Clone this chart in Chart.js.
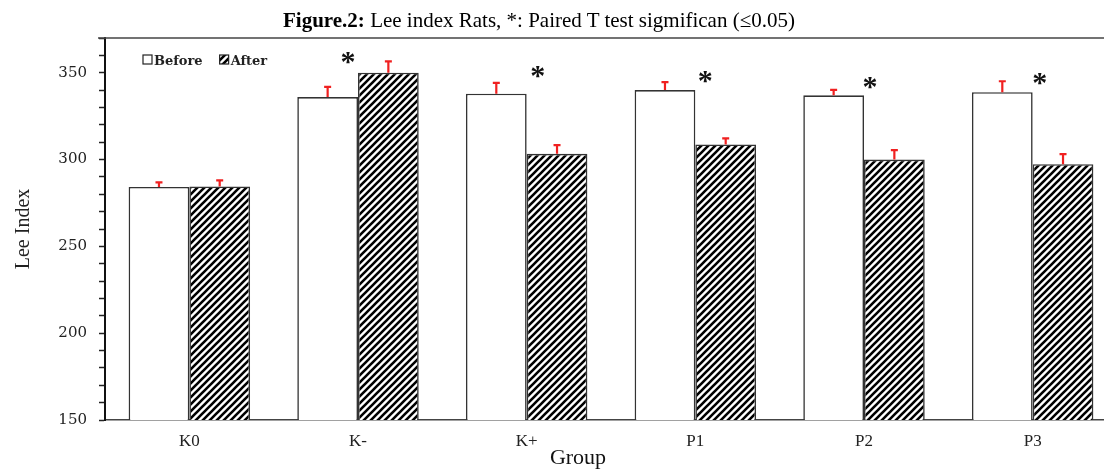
<!DOCTYPE html>
<html lang="en">
  <head>
    <meta charset="UTF-8" />
    <title>Lee Index</title>
    <style>
      html, body { margin: 0; padding: 0; background: #fff; overflow: hidden; }
      #wrap { position: relative; width: 1104px; height: 470px; overflow: hidden; }
      #caption {
        position: absolute; left: 0; top: 10px; width: 1078px;
        text-align: center; font: 21px 'Liberation Serif', serif;
        line-height: 20px; color: #000; white-space: nowrap;
      }
      #xtitle {
        position: absolute; left: 478px; top: 446px; width: 200px;
        text-align: center; font: 22px 'Liberation Serif', serif;
        line-height: 22px; color: #111;
      }
      canvas { position: absolute; left: 0; top: 0; }
    </style>
  </head>
  <script src="https://cdn.jsdelivr.net/npm/chart.js@4.4.1/dist/chart.umd.min.js"></script>
  <body>
    <div id="wrap">
      <canvas id="lee-chart" width="1120" height="470"></canvas>
      <div id="caption"><b>Figure.2:</b> Lee index Rats, *: Paired T test sigmifican (&le;0.05)</div>
      <div id="xtitle">Group</div>
    </div>
    <script>
      const groups = ['K0', 'K-', 'K+', 'P1', 'P2', 'P3'];
      const beforeValues = [284.2, 336, 337.9, 340, 337, 338.8];
      const afterValues = [284.5, 350, 303.3, 308.7, 300, 297.3];
      const beforeErr = [2.7, 5.8, 6.3, 4.6, 3.1, 6.3];
      const afterErr = [3.5, 6.5, 5.0, 3.5, 5.4, 5.8];
      // level of the "*" marker, null = not significant
      const starLevel = [null, 359.4, 351.3, 348.6, 345, 347.3];

      const errColor = '#f02020';
      const edgeColor = '#333';

      // hatched fill for the "After" bars
      function makeHatch(size, lw) {
        const c = document.createElement('canvas');
        c.width = size;
        c.height = size;
        const g = c.getContext('2d');
        g.fillStyle = '#fff';
        g.fillRect(0, 0, size, size);
        g.strokeStyle = '#000';
        g.lineWidth = lw;
        g.beginPath();
        g.moveTo(-size / 2, size / 2); g.lineTo(size / 2, -size / 2);
        g.moveTo(0, size); g.lineTo(size, 0);
        g.moveTo(size / 2, size * 1.5); g.lineTo(size * 1.5, size / 2);
        g.stroke();
        return g.createPattern(c, 'repeat');
      }

      const ctx = document.getElementById('lee-chart').getContext('2d');
      const hatch = makeHatch(7, 2.6);

      const extras = {
        id: 'extras',
        afterDatasetsDraw(chart) {
          const { ctx, chartArea } = chart;
          const yScale = chart.scales.y;
          ctx.save();

          // top frame line
          ctx.strokeStyle = '#444';
          ctx.lineWidth = 1.5;
          ctx.beginPath();
          ctx.moveTo(chartArea.left - 7, chartArea.top);
          ctx.lineTo(chartArea.right, chartArea.top);
          ctx.stroke();

          // error bars (upper half only)
          const errs = [beforeErr, afterErr];
          chart.data.datasets.forEach((ds, i) => {
            chart.getDatasetMeta(i).data.forEach((bar, j) => {
              const yEnd = yScale.getPixelForValue(ds.data[j] + errs[i][j]);
              ctx.strokeStyle = errColor;
              ctx.lineWidth = 2.2;
              ctx.beginPath();
              ctx.moveTo(bar.x, bar.y);
              ctx.lineTo(bar.x, yEnd);
              ctx.moveTo(bar.x - 3.5, yEnd);
              ctx.lineTo(bar.x + 3.5, yEnd);
              ctx.stroke();
            });
          });

          // significance stars
          const nudge = [0, -10, 11, 10, 6, 7];
          const xScale = chart.scales.x;
          ctx.fillStyle = '#111';
          ctx.font = 'bold 30px "Liberation Serif"';
          ctx.textAlign = 'center';
          ctx.textBaseline = 'alphabetic';
          starLevel.forEach((lv, j) => {
            if (lv === null) return;
            const x = xScale.getPixelForValue(j) + nudge[j];
            const y = yScale.getPixelForValue(lv);
            ctx.fillText('*', x, y + 15);
          });

          // legend inside the plot
          let lx = chartArea.left + 38;
          const ly = 55;
          ctx.font = 'bold 13px "DejaVu Serif"';
          ctx.textAlign = 'left';
          chart.data.datasets.forEach((ds) => {
            ctx.fillStyle = ds.backgroundColor;
            ctx.fillRect(lx, ly, 9, 9);
            ctx.strokeStyle = '#222';
            ctx.lineWidth = 1.2;
            ctx.strokeRect(lx, ly, 9, 9);
            ctx.fillStyle = '#222';
            ctx.fillText(ds.label, lx + 11, ly + 10);
            lx += 11 + ctx.measureText(ds.label).width + 17;
          });

          ctx.restore();
        }
      };

      new Chart(ctx, {
        type: 'bar',
        data: {
          labels: groups,
          datasets: [
            {
              label: 'Before',
              data: beforeValues,
              backgroundColor: '#fff',
              borderColor: edgeColor,
              borderWidth: 1.6
            },
            {
              label: 'After',
              data: afterValues,
              backgroundColor: hatch,
              borderColor: edgeColor,
              borderWidth: 1.6
            }
          ]
        },
        options: {
          responsive: false,
          animation: false,
          layout: {
            padding: { top: 38, right: 3, left: 0, bottom: 0 }
          },
          datasets: {
            bar: { categoryPercentage: 0.72, barPercentage: 1.0 }
          },
          plugins: {
            legend: { display: false },
            tooltip: { enabled: false }
          },
          scales: {
            x: {
              grid: { display: false, drawTicks: false },
              border: { color: '#444', width: 1.5 },
              ticks: {
                color: '#222',
                padding: 11,
                font: { family: 'Liberation Serif', size: 17 }
              },
              afterFit: (scale) => { scale.height = 50; }
            },
            y: {
              min: 150,
              max: 370,
              grid: { drawOnChartArea: false, tickLength: 6, color: '#222', tickWidth: 1.5 },
              border: { color: '#111', width: 2 },
              ticks: {
                stepSize: 10,
                autoSkip: false,
                color: '#222',
                padding: 12,
                font: { family: 'DejaVu Serif', size: 15 },
                callback: (v) => (v % 50 === 0 && v <= 350 ? v : '')
              },
              title: {
                display: true,
                text: 'Lee Index',
                color: '#222',
                padding: { top: 12, bottom: 0 },
                font: { family: 'Liberation Serif', size: 20 }
              },
              afterFit: (scale) => { scale.width = 105; }
            }
          }
        },
        plugins: [extras]
      });
    </script>
  </body>
</html>
